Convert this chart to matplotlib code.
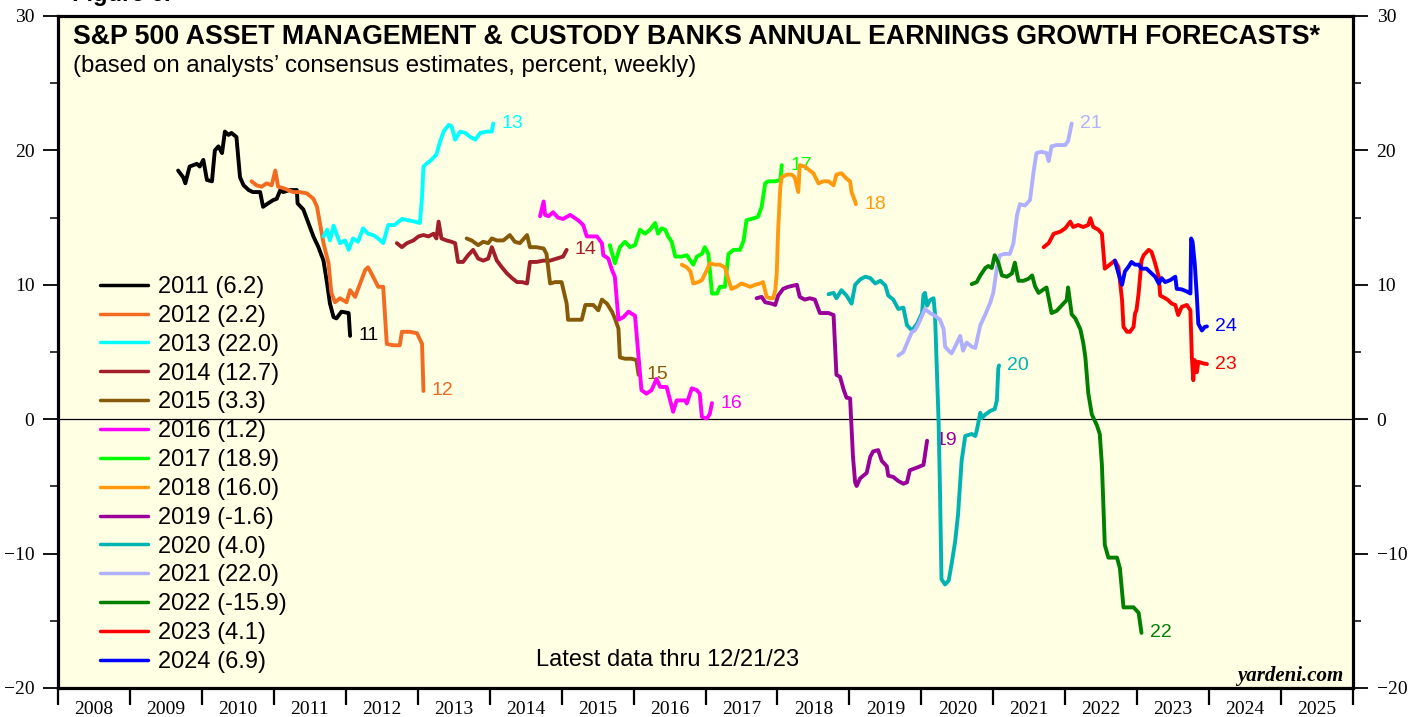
import matplotlib
matplotlib.use("Agg")
import matplotlib.pyplot as plt
from matplotlib.ticker import MultipleLocator, FixedLocator, NullFormatter, FixedFormatter

# ---------------- data (decimal years, percent) ----------------
t2011 = [2009.67, 2009.74, 2009.77, 2009.81, 2009.83, 2009.93, 2009.97, 2010.02, 2010.07, 2010.14,
         2010.18, 2010.23, 2010.28, 2010.32, 2010.37, 2010.41, 2010.48, 2010.53, 2010.58, 2010.65,
         2010.71, 2010.81, 2010.85, 2010.92, 2010.99, 2011.04, 2011.09, 2011.13, 2011.22, 2011.32,
         2011.33, 2011.41, 2011.48, 2011.55, 2011.62, 2011.69, 2011.74, 2011.78, 2011.83, 2011.87,
         2011.94, 2012.04, 2012.06]
v2011 = [18.5, 18.0, 17.55, 18.4, 18.8, 19.0, 18.8, 19.3, 17.8, 17.7,
         20.0, 20.3, 19.8, 21.4, 21.15, 21.3, 21.0, 18.0, 17.4, 17.05,
         16.9, 16.9, 15.8, 16.06, 16.3, 16.4, 17.05, 16.9, 17.05, 17.05,
         16.06, 15.6, 14.6, 13.6, 12.8, 11.8, 10.1, 8.6, 7.6, 7.5,
         8.0, 7.9, 6.2]

t2012 = [2010.69, 2010.76, 2010.83, 2010.90, 2010.97, 2011.02, 2011.06, 2011.13, 2011.20, 2011.27,
         2011.36, 2011.46, 2011.55, 2011.60, 2011.64, 2011.69, 2011.76, 2011.80, 2011.85, 2011.92,
         2012.01, 2012.06, 2012.13, 2012.20, 2012.27, 2012.31, 2012.38, 2012.45, 2012.52, 2012.57,
         2012.66, 2012.75, 2012.78, 2012.89, 2012.99, 2013.06, 2013.08]
v2012 = [17.7, 17.4, 17.3, 17.55, 17.4, 18.5, 17.3, 17.2, 17.05, 16.9,
         16.9, 16.8, 16.4, 15.8, 14.6, 13.1, 11.6, 9.4, 8.7, 9.0,
         8.7, 9.6, 9.1, 10.1, 11.1, 11.3, 10.6, 9.85, 9.85, 5.6,
         5.5, 5.5, 6.5, 6.5, 6.4, 5.6, 2.1]

t2013 = [2011.69, 2011.74, 2011.78, 2011.83, 2011.87, 2011.92, 2011.99, 2012.04, 2012.10, 2012.17,
         2012.24, 2012.31, 2012.38, 2012.45, 2012.52, 2012.59, 2012.68, 2012.78, 2012.87, 2012.96,
         2013.03, 2013.06, 2013.08, 2013.12, 2013.19, 2013.26, 2013.31, 2013.36, 2013.43, 2013.47,
         2013.52, 2013.59, 2013.66, 2013.73, 2013.80, 2013.87, 2013.96, 2014.03, 2014.05]
v2013 = [13.6, 14.1, 13.3, 14.4, 13.8, 13.1, 13.3, 12.6, 13.45, 13.2,
         14.2, 13.8, 13.7, 13.45, 13.1, 14.45, 14.45, 14.9, 14.8, 14.7,
         14.6, 16.55, 18.8, 19.0, 19.3, 19.7, 20.65, 21.4, 21.9, 21.8,
         20.8, 21.4, 21.3, 21.0, 20.8, 21.3, 21.4, 21.4, 22.0]

t2014 = [2012.71, 2012.78, 2012.85, 2012.94, 2013.01, 2013.08, 2013.15, 2013.22, 2013.26, 2013.29,
         2013.33, 2013.40, 2013.47, 2013.52, 2013.56, 2013.63, 2013.70, 2013.77, 2013.84, 2013.91,
         2013.98, 2014.03, 2014.10, 2014.17, 2014.24, 2014.31, 2014.38, 2014.45, 2014.52, 2014.56,
         2014.65, 2014.75, 2014.84, 2014.93, 2015.02, 2015.07]
v2014 = [13.1, 12.8, 13.1, 13.3, 13.6, 13.7, 13.6, 13.8, 13.45, 14.7,
         13.45, 13.3, 13.2, 13.1, 11.7, 11.7, 12.2, 12.6, 11.95, 11.8,
         11.95, 12.8, 11.8, 11.3, 10.85, 10.5, 10.2, 10.2, 10.1, 11.7,
         11.7, 11.8, 11.8, 11.95, 12.1, 12.6]

t2015 = [2013.68, 2013.75, 2013.84, 2013.91, 2013.98, 2014.03, 2014.10, 2014.19, 2014.28, 2014.35,
         2014.42, 2014.52, 2014.56, 2014.65, 2014.75, 2014.79, 2014.84, 2014.91, 2015.00, 2015.07,
         2015.09, 2015.21, 2015.28, 2015.33, 2015.44, 2015.51, 2015.56, 2015.63, 2015.70, 2015.74,
         2015.79, 2015.81, 2015.88, 2015.97, 2016.04, 2016.07]
v2015 = [13.45, 13.3, 12.95, 13.2, 13.1, 13.45, 13.3, 13.3, 13.7, 13.2,
         13.1, 13.7, 12.8, 12.8, 12.7, 12.3, 10.1, 10.2, 10.2, 8.6,
         7.4, 7.4, 7.4, 8.5, 8.5, 8.1, 8.9, 8.6, 8.0, 7.5,
         6.75, 4.6, 4.5, 4.5, 4.4, 3.3]

t2016 = [2014.70, 2014.75, 2014.77, 2014.82, 2014.88, 2014.95, 2015.02, 2015.12, 2015.23, 2015.30,
         2015.35, 2015.49, 2015.56, 2015.58, 2015.65, 2015.70, 2015.74, 2015.79, 2015.86, 2015.93,
         2016.02, 2016.07, 2016.11, 2016.18, 2016.25, 2016.32, 2016.37, 2016.46, 2016.55, 2016.60,
         2016.72, 2016.74, 2016.81, 2016.88, 2016.92, 2016.95, 2017.02, 2017.06, 2017.09]
v2016 = [15.1, 16.2, 15.2, 15.1, 15.4, 15.0, 14.9, 15.2, 14.8, 14.45,
         13.6, 13.6, 13.1, 12.2, 11.95, 11.1, 10.6, 7.4, 7.6, 8.0,
         7.7, 4.6, 2.16, 1.9, 2.16, 3.0, 2.4, 2.4, 0.55, 1.4,
         1.4, 1.17, 2.3, 2.16, 1.9, 0.17, 0.05, 0.4, 1.2]

t2017 = [2015.67, 2015.74, 2015.81, 2015.88, 2015.95, 2016.02, 2016.09, 2016.16, 2016.23, 2016.30,
         2016.34, 2016.39, 2016.44, 2016.48, 2016.53, 2016.58, 2016.67, 2016.74, 2016.79, 2016.83,
         2016.88, 2016.95, 2016.99, 2017.04, 2017.09, 2017.16, 2017.20, 2017.27, 2017.32, 2017.39,
         2017.48, 2017.53, 2017.57, 2017.67, 2017.73, 2017.78, 2017.83, 2017.87, 2017.97, 2018.04,
         2018.06]
v2017 = [12.95, 11.6, 12.8, 13.2, 12.8, 12.95, 14.1, 13.8, 14.1, 14.6,
         13.8, 14.2, 14.1, 13.6, 13.2, 12.1, 12.1, 12.2, 11.8, 11.5,
         12.1, 12.3, 12.8, 12.3, 9.35, 9.35, 9.85, 9.85, 12.3, 12.6,
         12.6, 13.3, 14.8, 14.95, 15.06, 15.8, 17.55, 17.7, 17.7, 17.8,
         18.9]

t2018 = [2016.67, 2016.74, 2016.79, 2016.83, 2016.90, 2016.95, 2017.02, 2017.06, 2017.13, 2017.20,
         2017.27, 2017.32, 2017.36, 2017.43, 2017.50, 2017.55, 2017.62, 2017.69, 2017.76, 2017.80,
         2017.85, 2017.90, 2017.94, 2017.97, 2017.99, 2018.01, 2018.04, 2018.06, 2018.13, 2018.20,
         2018.24, 2018.29, 2018.31, 2018.38, 2018.45, 2018.50, 2018.57, 2018.64, 2018.71, 2018.78,
         2018.82, 2018.89, 2018.96, 2019.01, 2019.03, 2019.08, 2019.09]
v2018 = [11.5, 11.3, 11.0, 10.1, 10.2, 10.35, 11.1, 11.6, 11.5, 11.5,
         11.3, 10.35, 9.7, 9.85, 10.1, 10.0, 9.85, 10.0, 10.1, 10.2,
         9.1, 9.0, 9.0, 9.6, 10.85, 14.1, 17.3, 18.0, 18.2, 18.2,
         18.0, 16.9, 18.9, 18.8, 18.5, 18.3, 17.55, 17.7, 17.7, 17.4,
         18.2, 18.3, 17.9, 17.7, 16.9, 16.2, 16.0]

t2019 = [2017.71, 2017.78, 2017.83, 2017.92, 2017.97, 2018.01, 2018.08, 2018.15, 2018.27, 2018.31,
         2018.38, 2018.45, 2018.52, 2018.59, 2018.71, 2018.78, 2018.82, 2018.87, 2018.92, 2018.96,
         2019.01, 2019.05, 2019.08, 2019.10, 2019.15, 2019.24, 2019.29, 2019.33, 2019.40, 2019.45,
         2019.52, 2019.54, 2019.61, 2019.68, 2019.75, 2019.80, 2019.84, 2019.94, 2020.03, 2020.08]
v2019 = [9.0, 9.1, 8.7, 8.6, 8.5, 9.2, 9.7, 9.85, 10.0, 9.1,
         8.9, 9.0, 8.9, 7.9, 7.9, 7.75, 3.3, 3.15, 2.2, 1.6,
         1.55, -2.8, -4.7, -4.97, -4.4, -4.0, -2.8, -2.4, -2.3, -3.1,
         -3.5, -4.2, -4.3, -4.6, -4.8, -4.7, -3.8, -3.6, -3.4, -1.6]

t2020 = [2018.71, 2018.78, 2018.82, 2018.89, 2018.96, 2019.03, 2019.08, 2019.15, 2019.22, 2019.29,
         2019.36, 2019.43, 2019.50, 2019.54, 2019.61, 2019.68, 2019.75, 2019.80, 2019.87, 2019.94,
         2020.01, 2020.03, 2020.05, 2020.08, 2020.12, 2020.17, 2020.19, 2020.21, 2020.24, 2020.26,
         2020.28, 2020.33, 2020.38, 2020.42, 2020.47, 2020.51, 2020.56, 2020.61, 2020.70, 2020.75,
         2020.77, 2020.82, 2020.84, 2020.89, 2020.96, 2021.02, 2021.05, 2021.07, 2021.08]
v2020 = [9.3, 9.4, 9.0, 9.6, 9.2, 8.6, 10.0, 10.4, 10.6, 10.5,
         10.1, 10.3, 9.95, 9.2, 8.9, 8.2, 8.3, 7.0, 6.6, 7.1,
         7.9, 9.26, 9.4, 8.45, 8.86, 9.0, 7.8, 4.6, -0.2, -5.5,
         -11.9, -12.3, -12.0, -10.8, -9.1, -7.1, -3.1, -1.25, -1.1, -1.25,
         -0.85, 0.48, 0.08, 0.35, 0.62, 0.75, 1.4, 3.8, 4.0]

t2021 = [2019.68, 2019.75, 2019.82, 2019.87, 2019.91, 2019.96, 2020.01, 2020.05, 2020.12, 2020.19,
         2020.26, 2020.31, 2020.33, 2020.38, 2020.42, 2020.47, 2020.54, 2020.58, 2020.63, 2020.70,
         2020.75, 2020.82, 2020.89, 2020.96, 2021.00, 2021.05, 2021.09, 2021.16, 2021.23, 2021.28,
         2021.33, 2021.37, 2021.44, 2021.51, 2021.56, 2021.60, 2021.67, 2021.74, 2021.77, 2021.81,
         2021.88, 2022.00, 2022.04, 2022.09]
v2021 = [4.74, 5.0, 5.9, 6.5, 6.6, 7.1, 7.7, 8.2, 7.9, 7.7,
         7.4, 6.7, 5.4, 5.1, 4.9, 5.4, 6.2, 5.1, 5.7, 5.4,
         5.3, 7.0, 7.8, 8.7, 9.4, 11.25, 12.2, 12.3, 12.3, 13.1,
         15.2, 16.0, 15.9, 16.3, 18.4, 19.8, 19.9, 19.8, 19.2, 20.3,
         20.4, 20.4, 20.7, 22.0]

t2022 = [2020.70, 2020.77, 2020.82, 2020.89, 2020.93, 2020.98, 2021.02, 2021.07, 2021.12, 2021.19,
         2021.26, 2021.30, 2021.35, 2021.42, 2021.49, 2021.54, 2021.58, 2021.63, 2021.70, 2021.74,
         2021.81, 2021.88, 2021.95, 2022.02, 2022.04, 2022.09, 2022.14, 2022.21, 2022.25, 2022.28,
         2022.32, 2022.37, 2022.44, 2022.48, 2022.51, 2022.55, 2022.60, 2022.72, 2022.76, 2022.81,
         2022.88, 2022.95, 2023.02, 2023.06]
v2022 = [10.05, 10.2, 10.7, 11.25, 11.4, 11.25, 12.2, 11.65, 10.7, 10.6,
         10.85, 11.65, 10.3, 10.3, 10.45, 10.7, 9.9, 9.4, 9.66, 9.8,
         7.9, 8.06, 8.46, 8.86, 9.8, 7.8, 7.5, 6.7, 5.7, 4.6,
         1.95, 0.35, -0.45, -1.1, -3.4, -9.35, -10.3, -10.3, -11.1, -14.0,
         -14.0, -14.0, -14.4, -15.9]

t2023 = [2021.70, 2021.77, 2021.84, 2021.93, 2022.00, 2022.07, 2022.11, 2022.18, 2022.25, 2022.32,
         2022.35, 2022.39, 2022.46, 2022.51, 2022.55, 2022.62, 2022.69, 2022.74, 2022.79, 2022.81,
         2022.86, 2022.90, 2022.95, 2022.97, 2022.99, 2023.02, 2023.06, 2023.09, 2023.16, 2023.20,
         2023.25, 2023.30, 2023.32, 2023.39, 2023.43, 2023.48, 2023.53, 2023.57, 2023.62, 2023.69,
         2023.74, 2023.76, 2023.78, 2023.80, 2023.83, 2023.85, 2023.92, 2023.97]
v2023 = [12.8, 13.1, 13.8, 13.95, 14.2, 14.7, 14.3, 14.45, 14.3, 14.45,
         14.95, 14.3, 14.1, 13.8, 11.2, 11.5, 11.8, 11.3, 8.86, 6.87,
         6.5, 6.5, 6.87, 7.87, 8.1, 9.36, 11.8, 12.2, 12.6, 12.45,
         11.6, 10.6, 9.2, 9.0, 8.86, 8.6, 8.5, 7.75, 8.36, 8.5,
         8.1, 4.64, 2.9, 4.4, 3.5, 4.27, 4.15, 4.1]

t2024 = [2022.69, 2022.74, 2022.79, 2022.83, 2022.88, 2022.92, 2022.97, 2023.02, 2023.06, 2023.13,
         2023.20, 2023.25, 2023.30, 2023.34, 2023.39, 2023.46, 2023.53, 2023.55, 2023.62, 2023.69,
         2023.74, 2023.75, 2023.77, 2023.80, 2023.83, 2023.85, 2023.90, 2023.94, 2023.97]
v2024 = [11.8, 10.85, 10.0, 11.0, 11.35, 11.7, 11.5, 11.5, 11.2, 11.2,
         10.85, 10.6, 10.1, 10.5, 10.2, 10.35, 10.6, 9.7, 9.66, 9.5,
         9.35, 13.45, 13.2, 11.6, 9.1, 7.1, 6.6, 6.87, 6.9]

years = [2011, 2012, 2013, 2014, 2015, 2016, 2017, 2018, 2019, 2020, 2021, 2022, 2023, 2024]
final_values = ["6.2", "2.2", "22.0", "12.7", "3.3", "1.2", "18.9", "16.0", "-1.6", "4.0",
                "22.0", "-15.9", "4.1", "6.9"]
end_labels = ["11", "12", "13", "14", "15", "16", "17", "18", "19", "20", "21", "22", "23", "24"]
colors = ["#000000", "#F26B21", "#00FFFF", "#A21F2A", "#875A0A", "#FF00FF", "#00FF00",
          "#FF9A0E", "#990099", "#00B3B3", "#B0B0FF", "#007F00", "#FF0000", "#0000FF"]

series_t = [t2011, t2012, t2013, t2014, t2015, t2016, t2017, t2018, t2019, t2020, t2021, t2022, t2023, t2024]
series_v = [v2011, v2012, v2013, v2014, v2015, v2016, v2017, v2018, v2019, v2020, v2021, v2022, v2023, v2024]

x_year_labels = list(range(2008, 2026))

title = "S&P 500 ASSET MANAGEMENT & CUSTODY BANKS ANNUAL EARNINGS GROWTH FORECASTS*"
subtitle = "(based on analysts\u2019 consensus estimates, percent, weekly)"
note = "Latest data thru 12/21/23"
source = "yardeni.com"

# ---------------- figure ----------------
W, H = 1419, 717
fig = plt.figure(figsize=(W / 100, H / 100), dpi=100)
fig.patch.set_facecolor("white")
L, R, T, B = 58, 1353, 16, 688
ax = fig.add_axes([L / W, 1 - B / H, (R - L) / W, (B - T) / H])
ax.set_facecolor("#FFFFE3")

sans = ["Liberation Sans", "DejaVu Sans"]
serif = ["Liberation Serif", "DejaVu Serif"]

ax.axhline(0, color="black", lw=0.9, zorder=1)

handles = []
for yr, fv, lab, c, ts, vs in zip(years, final_values, end_labels, colors, series_t, series_v):
    ln, = ax.plot(ts, vs, color=c, lw=2.8, solid_joinstyle="round", solid_capstyle="round",
                  label=f"{yr} ({fv})", zorder=3)
    handles.append(ln)
    ax.annotate(lab, xy=(ts[-1], vs[-1]), xytext=(6, 0), textcoords="offset points",
                va="center", ha="left", color=c, fontsize=14, family=sans)

ax.set_xlim(2008, 2026)
ax.set_ylim(-20, 30)

# x axis: year boundaries as ticks, labels centered in each year
ax.xaxis.set_major_locator(FixedLocator(list(range(2008, 2027))))
ax.xaxis.set_major_formatter(NullFormatter())
ax.xaxis.set_minor_locator(FixedLocator([y + 0.5 for y in x_year_labels]))
ax.xaxis.set_minor_formatter(FixedFormatter([str(y) for y in x_year_labels]))
ax.tick_params(axis="x", which="major", direction="out", length=12, width=1.6, top=False)
ax.tick_params(axis="x", which="minor", length=0, pad=9, labelsize=14)
for lbl in ax.get_xticklabels(minor=True):
    lbl.set_family(serif)

# y axis both sides
ax.yaxis.set_major_locator(MultipleLocator(10))
ax.yaxis.set_minor_locator(MultipleLocator(5))
ax.tick_params(axis="y", which="major", direction="out", length=11, width=1.3,
               left=True, right=True, labelleft=True, labelright=True, labelsize=14, pad=6)
ax.tick_params(axis="y", which="minor", direction="out", length=6, width=1.1,
               left=True, right=True)
for lbl in ax.yaxis.get_ticklabels(which="major"):
    lbl.set_family(serif)

for sp in ax.spines.values():
    sp.set_linewidth(2.3)

# titles inside plot
ax.text(15 / (R - L), 1 - (37 - T) / (B - T), title, transform=ax.transAxes, fontsize=19.3,
        fontweight="bold", family=sans, va="center", ha="left")
ax.text(15 / (R - L), 1 - (66 - T) / (B - T), subtitle, transform=ax.transAxes, fontsize=17.3,
        family=sans, va="center", ha="left")
ax.text((668 - L) / (R - L), (B - 660) / (B - T), note, transform=ax.transAxes, fontsize=17,
        family=sans, va="center", ha="center")
ax.text((1343 - L) / (R - L), (B - 681) / (B - T), source, transform=ax.transAxes, fontsize=15,
        family=serif, fontweight="bold", fontstyle="italic", va="baseline", ha="right")

fig.text(72 / W, 1 - 1.5 / H, "Figure 6.", fontsize=17, fontweight="bold", family=sans,
         va="baseline", ha="left")

leg = ax.legend(handles=handles, loc="upper left",
                bbox_to_anchor=((100 - L) / (R - L), (B - 276) / (B - T)),
                frameon=False, handlelength=2.05, handletextpad=0.42,
                labelspacing=0.29, borderpad=0, borderaxespad=0, prop={"family": sans, "size": 17})
for h in leg.get_lines():
    h.set_linewidth(2.5)

fig.savefig("out.png", dpi=100, facecolor="white")
